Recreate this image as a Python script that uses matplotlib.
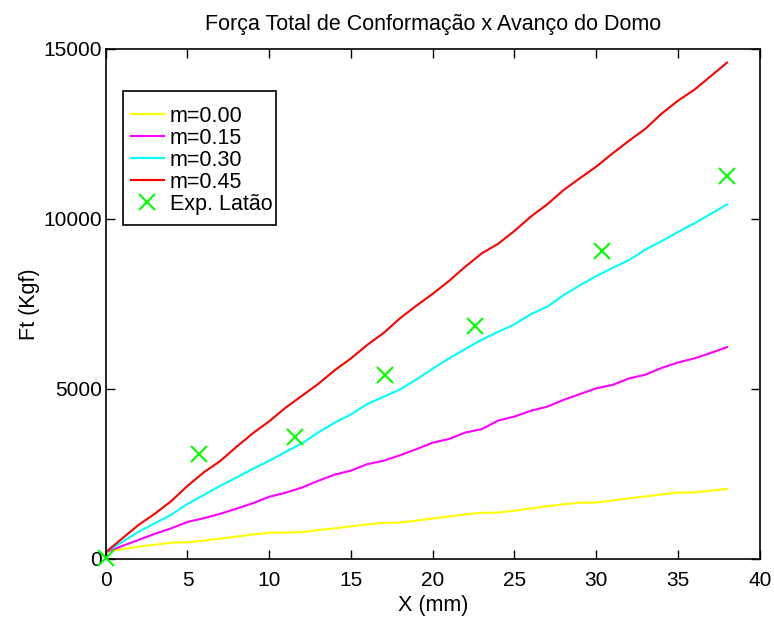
import numpy as np
import matplotlib.pyplot as plt
from matplotlib.patches import Rectangle

plt.rcParams['font.family'] = ['Liberation Sans', 'DejaVu Sans']

# avanco do domo [mm]
x = np.arange(0, 39)

# forca total [Kgf] para cada coeficiente de atrito
ft_m000 = [200, 290, 360, 420, 480, 490, 540, 600, 660, 720,
           775, 775, 790, 850, 900, 960, 1020, 1060, 1070, 1130,
           1190, 1250, 1310, 1360, 1365, 1420, 1490, 1550, 1610, 1655,
           1660, 1720, 1785, 1840, 1900, 1950, 1955, 2010, 2060]
ft_m015 = [200, 380, 560, 740, 900, 1090, 1200, 1330, 1480, 1640,
           1830, 1950, 2100, 2300, 2480, 2600, 2790, 2890, 3050, 3230,
           3420, 3530, 3720, 3820, 4070, 4190, 4360, 4480, 4680, 4850,
           5020, 5120, 5310, 5420, 5620, 5780, 5900, 6060, 6230]
ft_m030 = [200, 500, 800, 1050, 1300, 1620, 1880, 2150, 2400, 2650,
           2890, 3150, 3400, 3720, 4010, 4250, 4560, 4770, 4990, 5280,
           5600, 5900, 6180, 6450, 6680, 6900, 7200, 7420, 7760, 8050,
           8320, 8560, 8790, 9100, 9350, 9620, 9870, 10150, 10430]
ft_m045 = [200, 600, 1000, 1330, 1700, 2150, 2550, 2880, 3300, 3700,
           4050, 4450, 4800, 5150, 5550, 5900, 6300, 6650, 7080, 7450,
           7800, 8180, 8600, 8990, 9270, 9650, 10070, 10430, 10850, 11200,
           11540, 11930, 12300, 12650, 13100, 13480, 13800, 14200, 14600]

# experimental - latao
x_exp = [0.0, 5.7, 11.55, 17.08, 22.6, 30.33, 37.98]
ft_exp = [30, 3085, 3580, 5410, 6840, 9070, 11265]

fig = plt.figure(figsize=(7.74, 6.2), dpi=100)
ax = fig.add_axes([0.1366, 0.0984, 0.845, 0.8226])

ax.plot(x, ft_m000, color='#ffff00', lw=1.5, label='m=0.00')
ax.plot(x, ft_m015, color='#ff00ff', lw=1.5, label='m=0.15')
ax.plot(x, ft_m030, color='#00ffff', lw=1.5, label='m=0.30')
ax.plot(x, ft_m045, color='#ff0000', lw=1.5, label='m=0.45')
ax.plot(x_exp, ft_exp, 'x', color='#00ff00', ms=11, mew=1.5,
        linestyle='none', label='Exp. Latão', clip_on=False, zorder=5)

ax.set_xlim(0, 40)
ax.set_ylim(0, 15000)
ax.set_xticks(range(0, 41, 5))
ax.set_yticks([0, 5000, 10000, 15000])
ax.tick_params(direction='in', top=True, right=True, length=6.5,
               width=1, labelsize=15, pad=3)
ax.tick_params(axis='x', pad=9)
for s in ax.spines.values():
    s.set_linewidth(1.2)

ax.set_title('Força Total de Conformação x Avanço do Domo', fontsize=15.5, pad=14)
ax.set_xlabel('X (mm)', fontsize=15.5, labelpad=3)
ax.set_ylabel('Ft (Kgf)', fontsize=15.5, labelpad=2)

# legenda no estilo matlab: caixa fixa, texto pode passar da borda
leg = ax.legend(loc='upper left', bbox_to_anchor=(0.039, 0.889),
                borderaxespad=0, borderpad=0, fontsize=15.5, frameon=False,
                handlelength=1.5, handletextpad=0.3, labelspacing=0.05)
ax.add_patch(Rectangle((0.027, 0.655), 0.234, 0.263, transform=ax.transAxes,
                       facecolor='none', edgecolor='black', lw=1.2, zorder=6))

fig.savefig('out.png', dpi=100)
